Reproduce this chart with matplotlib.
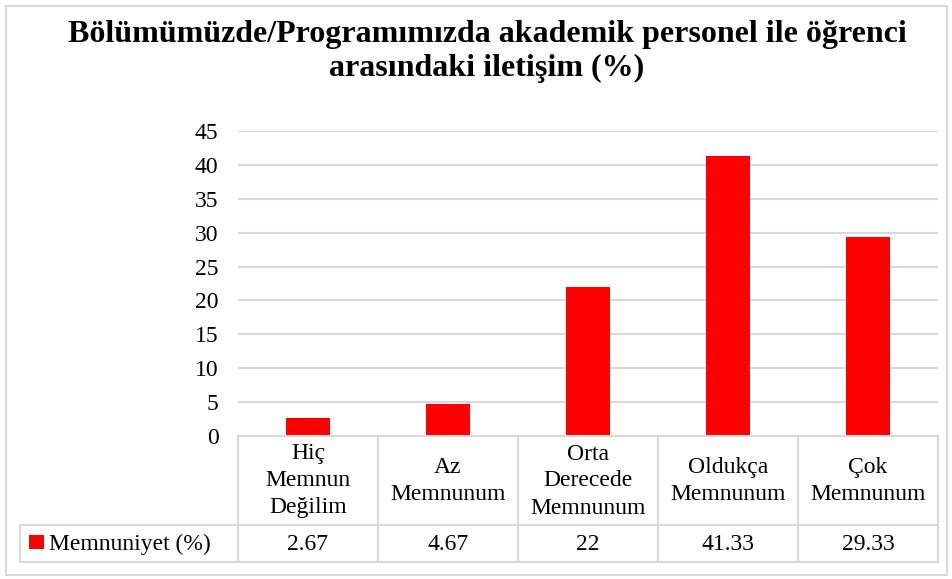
import matplotlib
matplotlib.use("Agg")
import matplotlib.pyplot as plt
from matplotlib.lines import Line2D
from matplotlib.patches import Rectangle

categories = ["Hiç\nMemnun\nDeğilim", "Az\nMemnunum", "Orta\nDerecede\nMemnunum",
              "Oldukça\nMemnunum", "Çok\nMemnunum"]
values = [2.67, 4.67, 22, 41.33, 29.33]
value_labels = ["2.67", "4.67", "22", "41.33", "29.33"]
series_name = "Memnuniyet (%)"
yticks = [0, 5, 10, 15, 20, 25, 30, 35, 40, 45]
title_lines = ["Bölümümüzde/Programımızda akademik personel ile öğrenci",
               "arasındaki iletişim (%)"]

W, H = 953, 579
plt.rcParams['font.family'] = ['Liberation Serif', 'DejaVu Serif']
fig = plt.figure(figsize=(W / 100, H / 100), dpi=100)

def fx(px):
    return px / W

def fy(py):
    return 1 - py / H

red = "#ff0000"
grid = "#d9d9d9"
fs = 17

ax_l, ax_r, ax_top, ax_bot = 238, 938, 131, 436
ax = fig.add_axes([fx(ax_l), fy(ax_bot), fx(ax_r) - fx(ax_l), fy(ax_top) - fy(ax_bot)])
n = len(values)
ax.bar(range(n), values, width=0.315, color=red, zorder=3)
ax.set_xlim(-0.5, n - 0.5)
ax.set_ylim(0, 45)
ax.set_yticks(yticks)
ax.set_yticklabels([str(t) for t in yticks], fontsize=fs)
ax.tick_params(axis='y', length=0, pad=14)
ax.set_xticks([])
for s in ax.spines.values():
    s.set_visible(False)
ax.yaxis.grid(True, color=grid, linewidth=1.5, zorder=0)
ax.set_axisbelow(True)

# Title (baselines placed explicitly)
for k, tl in enumerate(title_lines):
    fig.text(fx(487), fy(42 + 34 * k), tl, ha='center', va='baseline', fontsize=23,
             fontweight='bold')

# Data table
row1_bot, row2_bot = 525, 562
leg_left = 20
col_w = (ax_r - ax_l) / n
lw = 1.5

def line(x0, y0, x1, y1):
    fig.add_artist(Line2D([fx(x0), fx(x1)], [fy(y0), fy(y1)], color=grid, linewidth=lw))

line(ax_l, ax_bot, ax_r, ax_bot)
line(leg_left, row1_bot, ax_r, row1_bot)
line(leg_left, row2_bot, ax_r, row2_bot)
line(leg_left, row1_bot, leg_left, row2_bot)
for i in range(n + 1):
    x = ax_l + i * col_w
    line(x, ax_bot, x, row2_bot)

line_gap = 27
for i, (c, v) in enumerate(zip(categories, value_labels)):
    cx = ax_l + (i + 0.5) * col_w
    parts = c.split("\n")
    mid = (ax_bot + row1_bot) / 2
    for j, p in enumerate(parts):
        yc = mid + (j - (len(parts) - 1) / 2) * line_gap
        fig.text(fx(cx), fy(yc + 6), p, ha='center', va='baseline', fontsize=fs)
    fig.text(fx(cx), fy((row1_bot + row2_bot) / 2 + 7), v, ha='center', va='baseline',
             fontsize=fs)

# legend key in table
fig.add_artist(Rectangle((fx(29), fy(549)), fx(15), fy(535) - fy(549),
                         facecolor=red, edgecolor='none'))
fig.text(fx(49), fy(550), series_name, ha='left', va='baseline', fontsize=fs)

# outer chart border
fig.add_artist(Rectangle((fx(6), fy(575)), fx(941), fy(6) - fy(575), fill=False,
                         edgecolor=grid, linewidth=1.5))

fig.savefig("out.png", dpi=100)
